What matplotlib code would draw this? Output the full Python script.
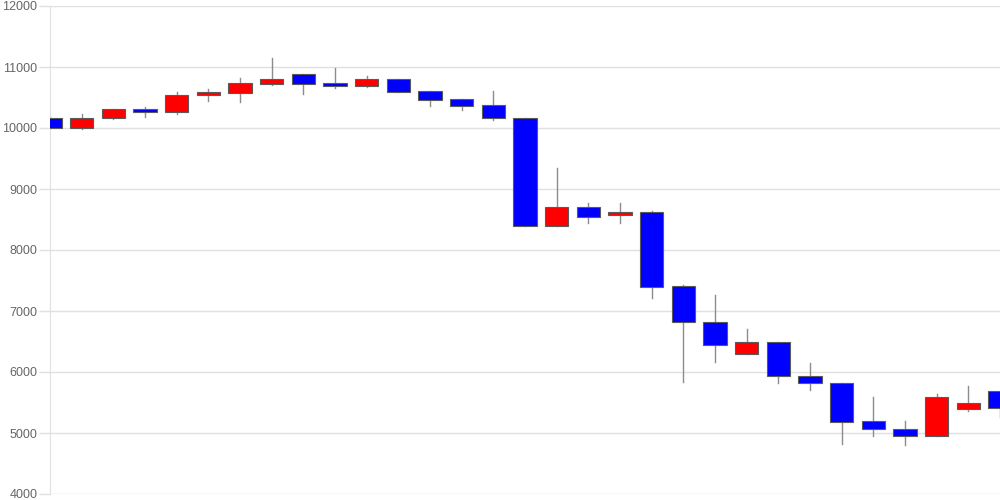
import matplotlib
matplotlib.use("Agg")
import matplotlib.pyplot as plt
import numpy as np

plt.rcParams['font.family'] = ['Liberation Sans', 'DejaVu Sans']

# ohlc
opens  = [10160, 10005, 10160, 10315, 10255, 10540, 10580, 10725, 10880, 10740,
          10690, 10800, 10600, 10470, 10375, 10165, 8390, 8705, 8580, 8620,
          7405, 6820, 6290, 6490, 5935, 5825, 5190, 5060, 4950, 5390, 5695]
highs  = [10190, 10230, 10310, 10340, 10585, 10640, 10815, 11150, 10880, 10985,
          10845, 10800, 10600, 10470, 10610, 10165, 9345, 8770, 8770, 8640,
          7430, 7255, 6700, 6490, 6150, 5825, 5585, 5200, 5640, 5765, 5695]
lows   = [10000, 9985, 10145, 10175, 10225, 10450, 10430, 10700, 10560, 10650,
          10670, 10590, 10360, 10300, 10135, 8390, 8390, 8450, 8445, 7215,
          5830, 6160, 6290, 5825, 5710, 4825, 4955, 4810, 4950, 5365, 5265]
closes = [10005, 10160, 10310, 10255, 10545, 10590, 10740, 10805, 10725, 10690,
          10800, 10590, 10460, 10365, 10160, 8390, 8705, 8540, 8620, 7400,
          6815, 6440, 6490, 5930, 5820, 5185, 5060, 4950, 5595, 5490, 5410]
yticks = [4000, 5000, 6000, 7000, 8000, 9000, 10000, 11000, 12000]

UP = '#ff0000'
DOWN = '#0000ff'
W = 0.73

fig = plt.figure(figsize=(10, 5), dpi=100)
ax = fig.add_axes([0.05, 0.012, 0.95, 0.976])

x = np.arange(len(opens))
for i in x:
    o, h, l, c = opens[i], highs[i], lows[i], closes[i]
    ax.plot([i, i], [l, h], color='#8c8c8c', lw=1, zorder=2)
    col = UP if c > o else DOWN
    ax.bar(i, abs(c - o), bottom=min(o, c), width=W, color=col,
           edgecolor='#5a5a5a', linewidth=0.8, zorder=3)

ax.set_xlim(0, 30)
ax.set_ylim(4000, 12000)
ax.set_yticks(yticks)
ax.set_yticklabels([str(v) for v in yticks])
ax.set_xticks([])
ax.grid(axis='y', color='#e0e0e0', lw=1, zorder=0)
ax.tick_params(axis='y', length=8, width=1, color='#e0e0e0', pad=1,
               labelsize=9, labelcolor='#666666')
for s in ['top', 'right', 'bottom']:
    ax.spines[s].set_visible(False)
ax.spines['left'].set_color('#e0e0e0')

fig.savefig('out.png', dpi=100)
